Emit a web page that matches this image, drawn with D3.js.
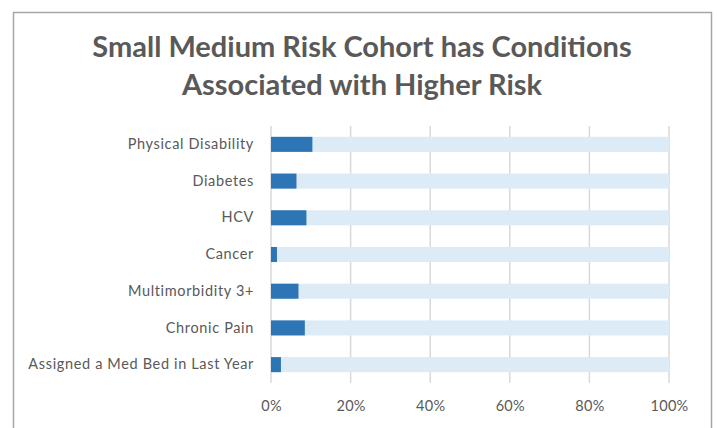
<!DOCTYPE html>
<html lang="en">
<head>
    <meta charset="UTF-8">
    <title>Small Medium Risk Cohort</title>
    <script src="https://d3js.org/d3.v7.min.js"></script>
    <style>
        body { margin: 0; background: #fff; }
        text { font-family: Lato, "Open Sans", sans-serif; fill: #595959; }
    </style>
</head>
<body>
    <svg id="chart"></svg>

    <script>
        const categories = [
            "Physical Disability",
            "Diabetes",
            "HCV ",
            "Cancer",
            "Multimorbidity 3+",
            "Chronic Pain",
            "Assigned a Med Bed in Last Year"
        ];
        const shares = [0.104, 0.064, 0.089, 0.015, 0.069, 0.085, 0.025];
        const totals = [1, 1, 1, 1, 1, 1, 1];
        const ticks = [0, 0.2, 0.4, 0.6, 0.8, 1];
        const titleLines = ["Small Medium Risk Cohort has Conditions", "Associated with Higher Risk"];

        const width = 717;
        const height = 428;
        const margin = {top: 126, left: 271, right: 48, bottom: 45};

        const svg = d3.select("#chart")
            .attr("width", width)
            .attr("height", height);

        // chart frame
        svg.append("rect")
            .attr("x", 13.5)
            .attr("y", 12.5)
            .attr("width", 698)
            .attr("height", 430)
            .attr("fill", "none")
            .attr("stroke", "#a6a6a6")
            .attr("stroke-width", 1.5);

        svg.selectAll(".title")
            .data(titleLines)
            .enter()
            .append("text")
            .attr("x", 362)
            .attr("y", (d, i) => 57 + i * 38)
            .attr("text-anchor", "middle")
            .style("font-size", "29px")
            .style("font-weight", "bold")
            .text(d => d);

        const x = d3.scaleLinear()
            .domain([0, 1])
            .range([margin.left, width - margin.right]);

        const y = d3.scaleBand()
            .domain(categories)
            .range([margin.top, height - margin.bottom])
            .paddingInner(0.59)
            .paddingOuter(0.295);

        // gridlines
        svg.selectAll(".grid")
            .data(ticks)
            .enter()
            .append("line")
            .attr("x1", d => x(d))
            .attr("x2", d => x(d))
            .attr("y1", margin.top)
            .attr("y2", height - margin.bottom)
            .attr("stroke", "#d9d9d9")
            .attr("stroke-width", 1.5);

        svg.selectAll(".bg")
            .data(totals)
            .enter()
            .append("rect")
            .attr("x", x(0))
            .attr("y", (d, i) => y(categories[i]))
            .attr("width", d => x(d) - x(0))
            .attr("height", y.bandwidth())
            .attr("fill", "#ddebf7");

        svg.selectAll(".bar")
            .data(shares)
            .enter()
            .append("rect")
            .attr("x", x(0))
            .attr("y", (d, i) => y(categories[i]))
            .attr("width", d => x(d) - x(0))
            .attr("height", y.bandwidth())
            .attr("fill", "#2e75b6");

        const yAxis = d3.axisLeft(y).tickSize(0).tickPadding(17);
        svg.append("g")
            .attr("transform", `translate(${margin.left},0)`)
            .call(yAxis)
            .call(g => g.select(".domain").remove())
            .selectAll("text")
            .style("font-size", "14.5px")
            .style("letter-spacing", "0.65px")
            .attr("fill", "#595959");

        const xAxis = d3.axisBottom(x).tickValues(ticks).tickFormat(d3.format(".0%")).tickSize(0).tickPadding(18);
        svg.append("g")
            .attr("transform", `translate(0,${height - margin.bottom})`)
            .call(xAxis)
            .call(g => g.select(".domain").remove())
            .selectAll("text")
            .style("font-size", "14.5px")
            .style("letter-spacing", "0.3px")
            .attr("fill", "#595959");
    </script>
</body>
</html>
